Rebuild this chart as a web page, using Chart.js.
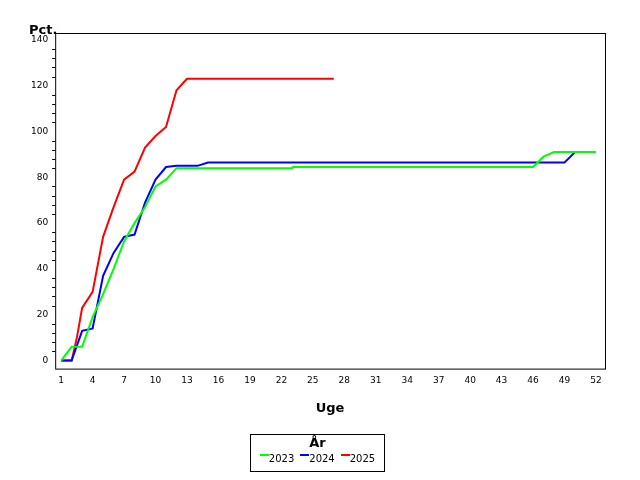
<!DOCTYPE html>
<html><head><meta charset="utf-8">
<script src="https://cdn.jsdelivr.net/npm/chart.js@4"></script>
<style>
body{margin:0;background:#fff;font-family:"DejaVu Sans",sans-serif}
#wrap{position:relative;width:640px;height:480px}
#pct{position:absolute;left:29px;top:22px;font-weight:bold;font-size:13px}
#leg{position:absolute;left:250px;top:434px;width:135px;height:38px;border:1px solid #000;box-sizing:border-box;font-size:10px;text-align:center}
#leg b{display:block;font-size:13px;margin:0 0 3px}
#leg span{margin:0 3px}
#leg i{display:inline-block;width:9px;height:2px;vertical-align:6px}
</style></head><body>
<div id="wrap"><canvas id="c" width="640" height="480"></canvas>
<div id="pct">Pct.</div>
<div id="leg"><b>År</b><span><i style="background:#00ff00"></i>2023</span><span><i style="background:#0000ff"></i>2024</span><span><i style="background:#ff0000"></i>2025</span></div>
</div>
<script>
// uge-vise kumulative procenter
const weeks2023 = [1,2,3,4,5,6,7,8,9,10,11,12,23,23.1,46,47,48,52];
const pct2023   = [0,6,6,19,29,40,52,60,67,76,79,84,84,84.5,84.5,89,91,91];
const weeks2024 = [1,2,3,4,5,6,7,8,9,10,11,12,14,15,49,50];
const pct2024   = [0,0,13,14,37,47,54,55,69,79,84.5,85,85,86.5,86.5,91];
const weeks2025 = [1,2,2.5,3,4,5,6,7,8,9,10,11,12,13,27];
const pct2025   = [0,0,10,23,30,54,67,79,82.5,93,98,102,118,123,123];
const xTicks = [1,4,7,10,13,16,19,22,25,28,31,34,37,40,43,46,49,52];
const yTicks = [0,20,40,60,80,100,120,140];

const pts = (xs, ys) => xs.map((x, i) => ({ x, y: ys[i] }));
const ds = (lab, xs, ys, col) => ({ label: lab, data: pts(xs, ys), borderColor: col, borderWidth: 2, pointRadius: 0, tension: 0 });

const frame = {
  id: 'frame',
  afterDraw(ch) {
    const { ctx, chartArea: a, scales: { y } } = ch;
    ctx.save();
    ctx.strokeStyle = '#000'; ctx.lineWidth = 1;
    ctx.strokeRect(a.left + 0.5, a.top + 0.5, a.right - a.left, a.bottom - a.top);
    // små ticks
    for (let v = 0; v <= 140; v += 4) {
      if (v % 20 === 0) continue;
      const py = Math.round(y.getPixelForValue(v)) + 0.5;
      ctx.beginPath(); ctx.moveTo(a.left - 3, py); ctx.lineTo(a.left, py); ctx.stroke();
    }
    ctx.restore();
  }
};

new Chart(document.getElementById('c'), {
  type: 'line',
  data: { datasets: [ds('2023', weeks2023, pct2023, '#00ff00'), ds('2024', weeks2024, pct2024, '#0000ff'), ds('2025', weeks2025, pct2025, '#ff0000')] },
  options: {
    responsive: false, animation: false,
    layout: { padding: { left: 29, right: 35, top: 33, bottom: 60 } },
    plugins: { legend: { display: false }, tooltip: { enabled: false } },
    scales: {
      x: { type: 'linear', min: 0.43, max: 52.86,
        afterBuildTicks: s => { s.ticks = xTicks.map(v => ({ value: v })); },
        grid: { display: false, drawTicks: true, tickLength: 5, tickColor: '#000' },
        border: { display: false },
        ticks: { color: '#000', font: { family: 'DejaVu Sans', size: 9 }, maxRotation: 0, autoSkip: false, padding: 2 },
        title: { display: true, text: 'Uge', color: '#000', font: { family: 'DejaVu Sans', size: 13, weight: 'bold' }, padding: { top: 12 } } },
      y: { min: -3.5, max: 143,
        afterBuildTicks: s => { s.ticks = yTicks.map(v => ({ value: v })); },
        grid: { display: false, drawTicks: true, tickLength: 5, tickColor: '#000' },
        border: { display: false },
        ticks: { color: '#000', font: { family: 'DejaVu Sans', size: 9 }, padding: 2 } }
    }
  },
  plugins: [frame]
});
</script></body></html>
